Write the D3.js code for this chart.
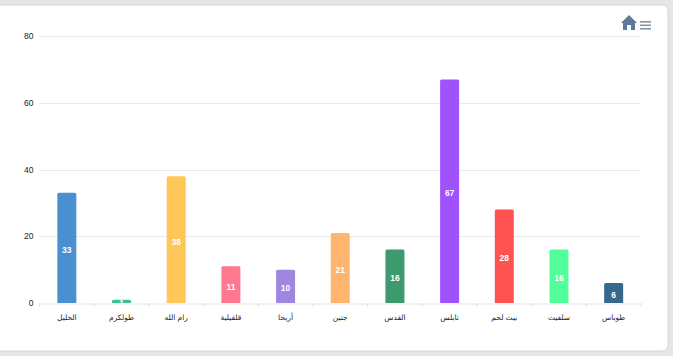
<!DOCTYPE html>
<html>
<head>
<meta charset="utf-8">
<script src="https://cdn.jsdelivr.net/npm/d3@7"></script>
<style>
html, body { margin: 0; padding: 0; background: #e6e6e6; overflow: hidden; }
#chart { position: absolute; left: 0; top: 0; }
text { font-family: "Liberation Sans", "DejaVu Sans", sans-serif; }
</style>
</head>
<body>
<div id="chart"></div>
<script>
// المحافظات
const categories = ['الخليل', 'طولكرم', 'رام الله', 'قلقيلية', 'أريحا', 'جنين', 'القدس', 'نابلس', 'بيت لحم', 'سلفيت', 'طوباس'];
const values = [33, 1, 38, 11, 10, 21, 16, 67, 28, 16, 6];
const colors = ['#4a90d0', '#3cbf91', '#ffc658', '#ff788f', '#9f86de', '#ffb56f', '#3d9a6c', '#a152ff', '#ff5252', '#52ff9a', '#36688a'];
const yTicks = [0, 20, 40, 60, 80];

const width = 673;
const height = 356;
const margin = {top: 36, right: 32, bottom: 53, left: 39.5};

const svg = d3.select('#chart')
    .append('svg')
    .attr('width', width)
    .attr('height', height);

// الخلفية
svg.append('rect')
    .attr('x', -6)
    .attr('y', 5)
    .attr('width', 674)
    .attr('height', 346)
    .attr('rx', 6)
    .attr('fill', '#fff')
    .attr('stroke', '#d6d6d6');

const x = d3.scaleBand()
    .domain(categories)
    .range([margin.left, width - margin.right]);

const y = d3.scaleLinear()
    .domain([0, 80])
    .range([height - margin.bottom, margin.top]);

// خطوط الشبكة
svg.append('g')
    .selectAll('line')
    .data(yTicks.filter(d => d > 0))
    .join('line')
    .attr('x1', margin.left)
    .attr('x2', width - margin.right)
    .attr('y1', d => Math.round(y(d)) + 0.5)
    .attr('y2', d => Math.round(y(d)) + 0.5)
    .attr('stroke', '#e9e9e9');

// المحور الصادي
const yAxis = svg.append('g')
    .attr('transform', `translate(${margin.left},0)`)
    .call(d3.axisLeft(y).tickValues(yTicks).tickSize(0).tickPadding(6));
yAxis.select('.domain').remove();
yAxis.selectAll('text')
    .attr('fill', '#222')
    .style('font-size', '8.5px');

// المحور السيني
const xAxis = svg.append('g')
    .attr('transform', `translate(0,${Math.round(y(0)) + 0.5})`)
    .call(d3.axisBottom(x).tickSize(0).tickPadding(11));
xAxis.select('.domain').attr('stroke', '#e4e4e4');
xAxis.selectAll('text')
    .attr('fill', '#222')
    .style('font-size', '7.5px');

svg.append('g')
    .selectAll('line')
    .data(categories.concat(['end']))
    .join('line')
    .attr('x1', d => d === 'end' ? width - margin.right : x(d))
    .attr('x2', d => d === 'end' ? width - margin.right : x(d))
    .attr('y1', y(0))
    .attr('y2', y(0) + 4)
    .attr('stroke', '#e4e4e4');

// الأعمدة
const barWidth = 19;
svg.append('g')
    .selectAll('path')
    .data(values)
    .join('path')
    .attr('d', (d, i) => {
        const left = x(categories[i]) + (x.bandwidth() - barWidth) / 2;
        const top = y(d);
        const r = Math.min(1.5, y(0) - top);
        return `M${left},${y(0)}V${top + r}Q${left},${top} ${left + r},${top}H${left + barWidth - r}Q${left + barWidth},${top} ${left + barWidth},${top + r}V${y(0)}Z`;
    })
    .attr('fill', (d, i) => colors[i]);

// قيم الأعمدة
svg.append('g')
    .selectAll('text')
    .data(values)
    .join('text')
    .attr('x', (d, i) => x(categories[i]) + x.bandwidth() / 2)
    .attr('y', d => (y(d) + y(0)) / 2 + 2)
    .attr('dy', '.35em')
    .attr('text-anchor', 'middle')
    .attr('fill', '#fff')
    .attr('font-weight', 'bold')
    .style('font-size', '8.5px')
    .text(d => d);

// أيقونة الصفحة الرئيسية والقائمة
const homeIcon = svg.append('g').attr('transform', 'translate(621,15)');
homeIcon.append('path')
    .attr('d', 'M0,8 L8,0 L16,8 L14,8 L14,15 L10,15 L10,10 L6,10 L6,15 L2,15 L2,8 Z')
    .attr('fill', '#5f7a96');

svg.append('g')
    .selectAll('rect')
    .data([0, 1, 2])
    .join('rect')
    .attr('x', 640)
    .attr('y', d => 21 + d * 3.5)
    .attr('width', 11)
    .attr('height', 1.6)
    .attr('fill', '#8497a8');
</script>
</body>
</html>
